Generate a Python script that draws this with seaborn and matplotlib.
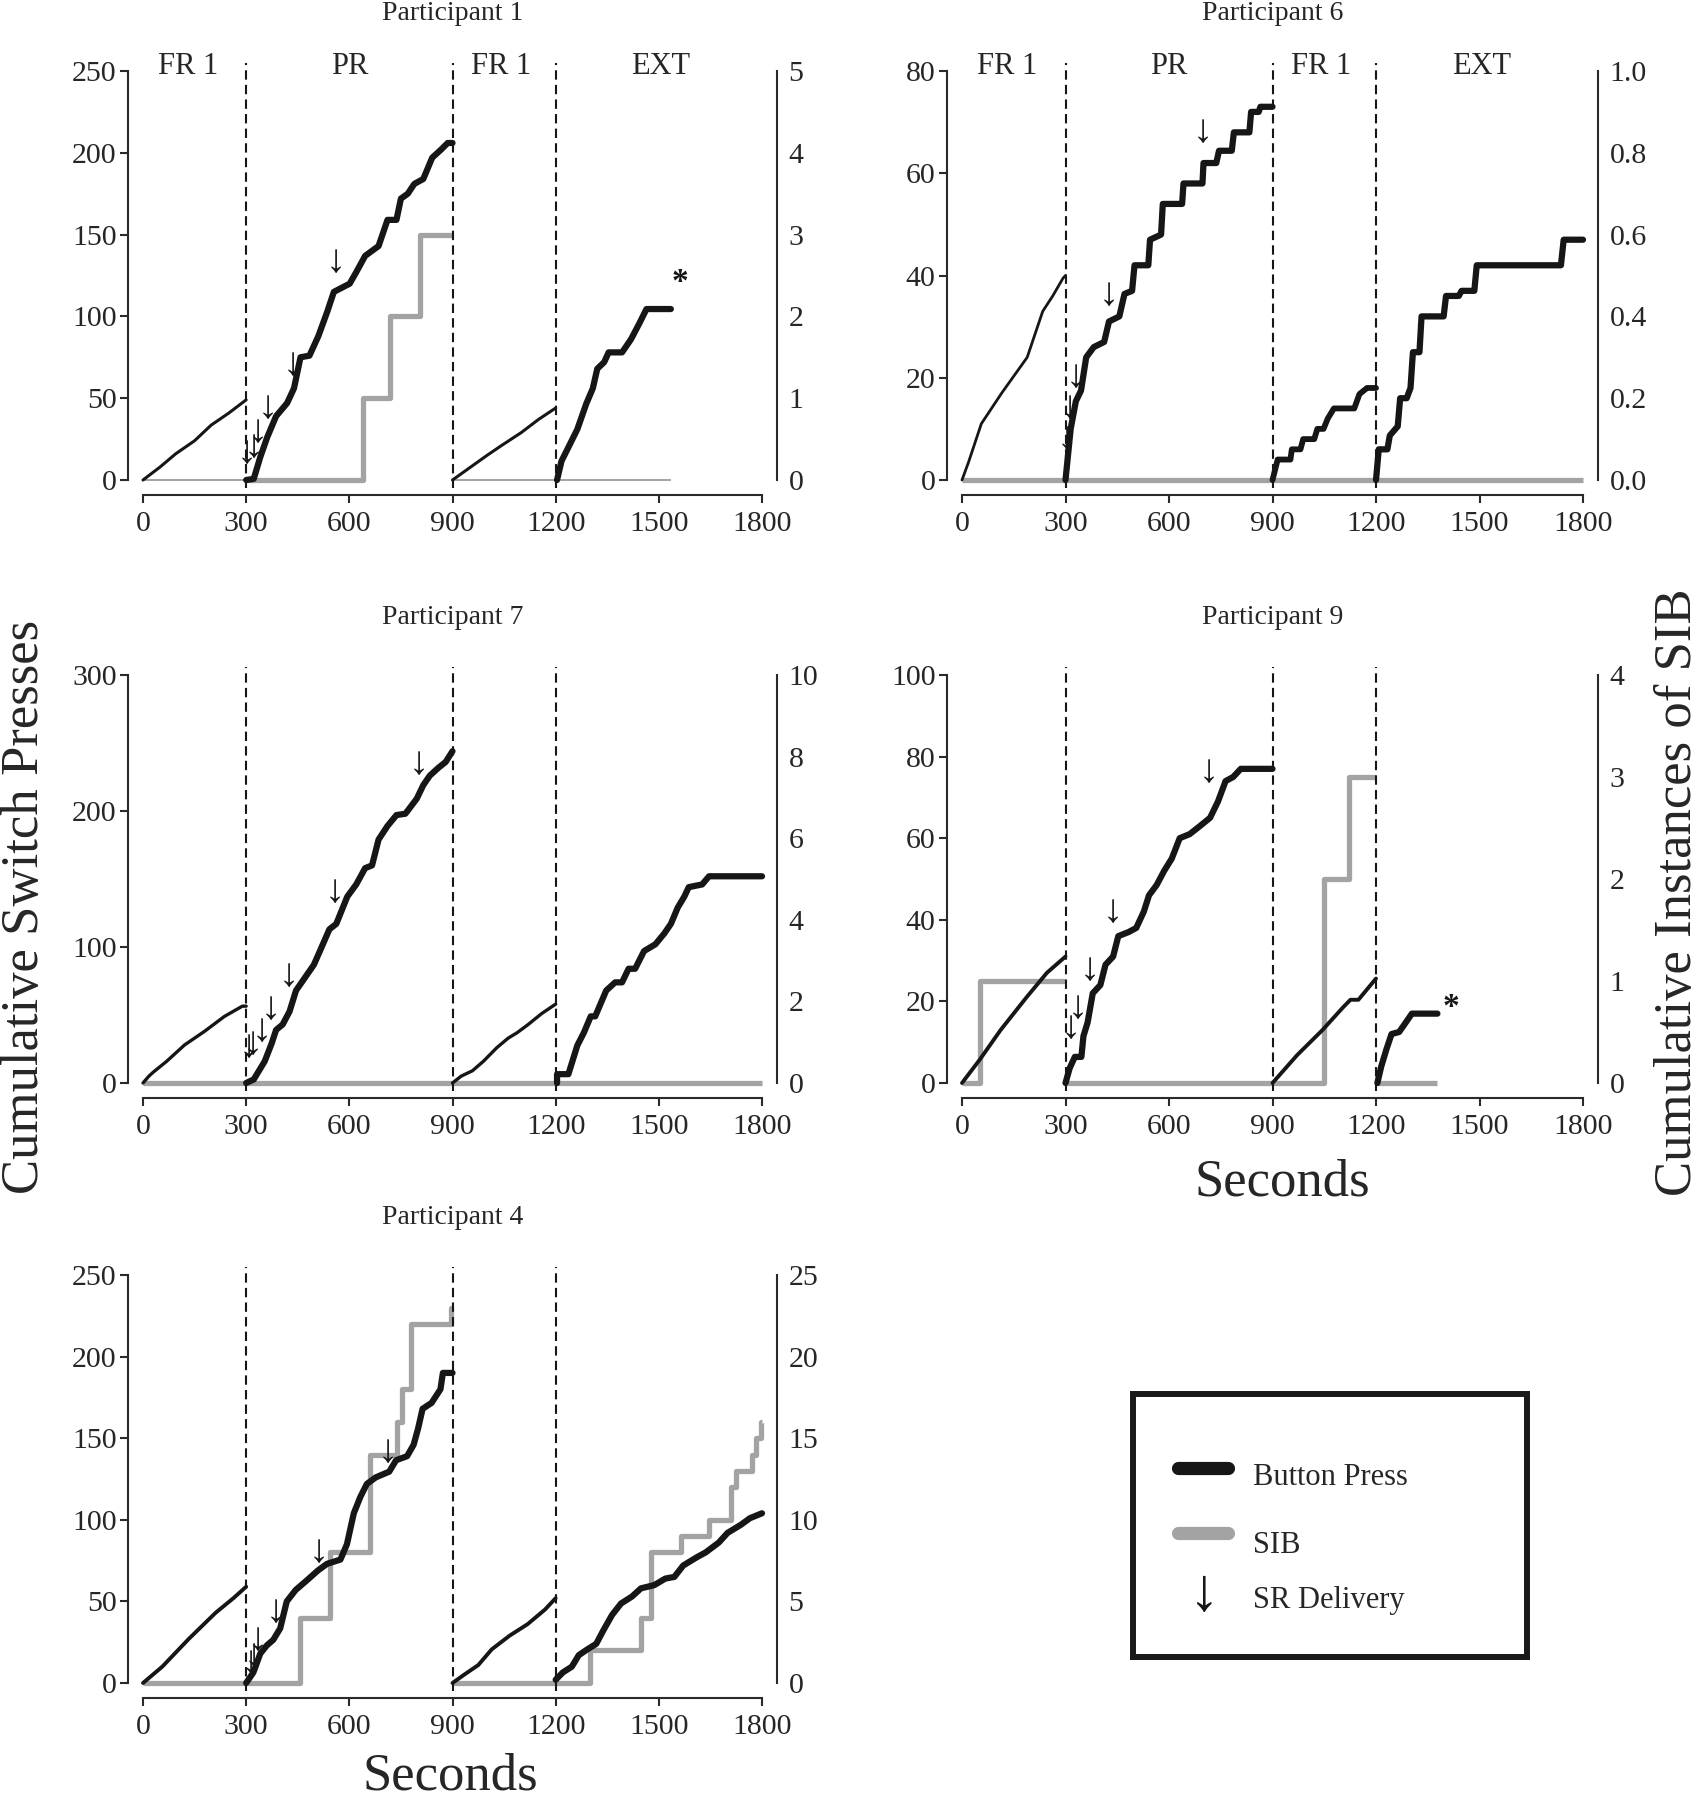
import numpy as np
import matplotlib
matplotlib.use("Agg")
import matplotlib.pyplot as plt
import seaborn as sns

nan = np.nan

# ---------------- DATA (seconds, cumulative counts; nan = phase break) ----------------
x_ticks = [0, 300, 600, 900, 1200, 1500, 1800]
phase_edges = [300, 900, 1200]
phase_names = ["FR 1", "PR", "FR 1", "EXT"]
phase_label_x = [130, 600, 1040, 1505]

# Participant 1
p1_press_t = [0, 50, 95, 150, 198, 250, 300, nan,
              300, 322, 341, 361, 387, 419, 439, 458, 484, 510, 536, 555, 601, 620, 646,
              685, 711, 737, 750, 770, 789, 815, 841, 867, 886, 900, nan,
              900, 1000, 1042, 1100, 1150, 1200, nan,
              1204, 1217, 1237, 1263, 1289, 1308, 1321, 1341, 1354, 1393, 1419, 1444, 1464, 1535]
p1_press_n = [0, 8, 16, 24, 33.5, 41, 49, nan,
              0, 0.7, 14, 26, 39, 47, 56, 75, 76, 88, 103, 115, 120, 127, 137,
              143, 159, 159, 172, 175, 181, 184, 197, 202, 206, 206, nan,
              0, 15, 21, 29, 37, 44, nan,
              0, 11.6, 20, 31, 46.6, 56, 68, 72, 78, 78, 86, 96, 104.5, 104.5]
p1_sib_t = [0, 300, nan, 300, 640, 718, 806, 900, nan, 900, 1200, nan, 1200, 1535]
p1_sib_n = [0, 0, nan, 0, 1, 2, 3, 3, nan, 0, 0, nan, 0, 0]
p1_sr_t = [302, 323, 334, 363, 436, 561]
p1_sr_n = [16.5, 20, 29, 44, 70, 133]
p1_star = (1561, 121)

# Participant 6
p6_press_t = [0, 19, 56, 115, 189, 234, 263, 293, 300, nan,
              300, 315, 330, 345, 360, 382, 412, 426, 456, 471, 493, 500, 540, 545, 577,
              582, 638, 642, 697, 700, 737, 745, 782, 788, 833, 838, 860, 865, 900, nan,
              900, 915, 952, 956, 981, 989, 1021, 1030, 1048, 1060, 1078, 1137, 1152, 1174, 1200, nan,
              1200, 1208, 1233, 1240, 1263, 1270, 1289, 1300, 1307, 1326, 1332, 1396, 1403,
              1440, 1448, 1485, 1492, 1736, 1744, 1800]
p6_press_n = [0, 3.5, 11, 17, 24, 33, 36, 39.5, 40, nan,
              0, 10, 15.4, 17.5, 24, 26, 27, 31, 32, 36.4, 37, 42, 42, 47, 48,
              54, 54, 58, 58, 62, 62, 64.4, 64.4, 68, 68, 72, 72, 73, 73, nan,
              0, 4, 4, 6, 6, 8, 8, 10, 10, 12, 14, 14, 16.8, 18, 18, nan,
              0, 6, 6, 8.7, 10.5, 16, 16, 18, 25, 25, 32, 32, 36,
              36, 37, 37, 42, 42, 47, 47]
p6_sib_t = [0, 300, nan, 300, 900, nan, 900, 1200, nan, 1200, 1800]
p6_sib_n = [0, 0, nan, 0, 0, nan, 0, 0, nan, 0, 0]
p6_sr_t = [303, 313, 330, 426, 699]
p6_sr_n = [8, 14, 20, 36, 68]

# Participant 7
p7_press_t = [0, 17, 30, 69, 121, 179, 237, 289, 300, nan,
              300, 322, 354, 374, 387, 406, 426, 445, 471, 497, 523, 542, 562, 594, 620,
              646, 666, 685, 711, 737, 763, 796, 815, 834, 860, 880, 900, nan,
              900, 925, 958, 990, 1029, 1062, 1088, 1120, 1159, 1200, nan,
              1204, 1204, 1237, 1263, 1282, 1302, 1315, 1347, 1373, 1393, 1412, 1431, 1457,
              1490, 1516, 1535, 1555, 1574, 1587, 1626, 1646, 1800]
p7_press_n = [0, 5, 8, 16, 28, 38, 49, 56.5, 56.5, nan,
              0, 2.6, 16, 29, 39, 43, 52.5, 68, 77.5, 87, 102, 113, 117, 137, 146,
              158, 160, 179, 189, 197, 198, 209, 219, 226, 232, 236, 244, nan,
              0, 5, 9, 16, 26, 33, 37, 43, 51, 58, nan,
              0, 6.5, 6.5, 27.6, 37, 49, 49, 68, 74, 74, 84, 84, 97,
              102, 110, 117, 129, 137, 144, 146, 152, 152]
p7_sib_t = [0, 300, nan, 300, 900, nan, 900, 1200, nan, 1200, 1800]
p7_sib_n = [0, 0, nan, 0, 0, nan, 0, 0, nan, 0, 0]
p7_sr_t = [308, 320, 346, 372, 425, 558, 803]
p7_sr_n = [26, 28, 37.5, 54, 78, 140, 234]

# Participant 9
p9_press_t = [0, 53, 112, 187, 246, 300, nan,
              300, 312, 327, 346, 352, 364, 379, 401, 416, 438, 453, 483, 505, 527, 542,
              564, 586, 608, 631, 660, 690, 719, 742, 764, 786, 808, 900, nan,
              900, 971, 1045, 1104, 1126, 1149, 1200, nan,
              1204, 1215, 1230, 1245, 1267, 1282, 1304, 1378]
p9_press_n = [0, 5.9, 13, 21, 27, 31, nan,
              0, 3.6, 6.4, 6.4, 11.5, 14.8, 22, 24, 29, 31, 36, 37, 38, 42, 46,
              48.5, 52, 55, 60, 61, 63, 65, 69, 74, 75, 77, 77, nan,
              0, 6.8, 13, 18.5, 20.4, 20.4, 25.6, nan,
              0, 4, 8.2, 12, 12.5, 14.3, 17, 17]
p9_sib_t = [0, 53, 300, nan, 300, 900, nan, 900, 1048, 1122, 1200, nan, 1200, 1378]
p9_sib_n = [0, 1, 1, nan, 0, 0, nan, 0, 2, 3, 3, nan, 0, 0]
p9_sr_t = [316, 336, 371, 438, 716]
p9_sr_n = [13.4, 18.3, 27.6, 41.8, 76]
p9_star = (1417, 18.6)

# Participant 4
p4_press_t = [0, 56, 133, 211, 263, 300, nan,
              300, 321, 341, 360, 379, 399, 418, 444, 477, 509, 535, 574, 593, 613,
              632, 651, 677, 716, 736, 768, 787, 800, 813, 839, 865, 872, 900, nan,
              900, 936, 975, 1014, 1066, 1118, 1169, 1200, nan,
              1200, 1221, 1247, 1267, 1292, 1318, 1338, 1364, 1390, 1422, 1448, 1487,
              1519, 1545, 1571, 1610, 1636, 1674, 1700, 1739, 1765, 1800]
p4_press_n = [0, 10, 27, 43, 52, 59, nan,
              0, 6.5, 18, 23, 26.5, 33.5, 50, 57, 63, 69, 73, 75.6, 85, 104,
              114, 122, 126, 129.5, 136.5, 139, 146, 156, 168, 171.6, 180, 190, 190, nan,
              0, 5.4, 11, 20.6, 29, 36, 45, 52, nan,
              2, 6.5, 10, 17, 20.6, 24, 32, 41.7, 48.7, 53, 58, 60,
              64, 65, 72, 77, 80, 86, 92, 97, 101, 104]
p4_sib_t = [0, 300, nan, 300, 457, 545, 660, 740, 752, 778, 896, 900, nan, 900, 1200, nan,
            1200, 1299, 1448, 1478, 1564, 1646, 1711, 1724, 1772, 1784, 1797, 1800]
p4_sib_n = [0, 0, nan, 0, 4, 8, 14, 16, 18, 22, 23, 23, nan, 0, 0, nan,
            0, 2, 4, 8, 9, 10, 12, 13, 14, 15, 16, 16]
p4_sr_t = [314, 323, 334, 387, 512, 712]
p4_sr_n = [12, 16, 26, 43.5, 80, 141.5]

# ---------------- STYLE ----------------
sns.set_style("ticks")
plt.rcParams['font.family'] = ['Liberation Serif', 'DejaVu Serif']
plt.rcParams['axes.linewidth'] = 1.5

BLACK = "#161616"
GRAY = "#a3a3a3"
SPINE = "#2a2a2a"

W, H = 1700, 1800
col_x = [(143, 762), (962, 1583)]
row_y = [(71, 480), (675, 1083), (1275, 1683)]


def frame(col, row):
    x0, x1 = col_x[col]
    top, bot = row_y[row]
    return [x0 / W, 1 - bot / H, (x1 - x0) / W, (bot - top) / H]


panels = [
    dict(title="Participant 1", pos=frame(0, 0), press=(p1_press_t, p1_press_n),
         sib=(p1_sib_t, p1_sib_n), sr=(p1_sr_t, p1_sr_n), star=p1_star,
         ymax=250, yticks=[0, 50, 100, 150, 200, 250], rmax=5, rticks=[0, 1, 2, 3, 4, 5],
         press_lw=[2.2, 4.5, 2.2, 4.5], sib_lw=[1.4, 3.8, 1.4, 1.4], phases=True),
    dict(title="Participant 6", pos=frame(1, 0), press=(p6_press_t, p6_press_n),
         sib=(p6_sib_t, p6_sib_n), sr=(p6_sr_t, p6_sr_n), star=None,
         ymax=80, yticks=[0, 20, 40, 60, 80], rmax=1.0,
         rticks=[0.0, 0.2, 0.4, 0.6, 0.8, 1.0],
         press_lw=[2.0, 4.5, 4.2, 4.5], sib_lw=[3.8] * 4, phases=True),
    dict(title="Participant 7", pos=frame(0, 1), press=(p7_press_t, p7_press_n),
         sib=(p7_sib_t, p7_sib_n), sr=(p7_sr_t, p7_sr_n), star=None,
         ymax=300, yticks=[0, 100, 200, 300], rmax=10, rticks=[0, 2, 4, 6, 8, 10],
         press_lw=[2.4, 4.5, 2.4, 4.5], sib_lw=[3.8] * 4, phases=False),
    dict(title="Participant 9", pos=frame(1, 1), press=(p9_press_t, p9_press_n),
         sib=(p9_sib_t, p9_sib_n), sr=(p9_sr_t, p9_sr_n), star=p9_star,
         ymax=100, yticks=[0, 20, 40, 60, 80, 100], rmax=4, rticks=[0, 1, 2, 3, 4],
         press_lw=[2.8, 4.5, 2.8, 4.5], sib_lw=[3.8] * 4, phases=False),
    dict(title="Participant 4", pos=frame(0, 2), press=(p4_press_t, p4_press_n),
         sib=(p4_sib_t, p4_sib_n), sr=(p4_sr_t, p4_sr_n), star=None,
         ymax=250, yticks=[0, 50, 100, 150, 200, 250], rmax=25, rticks=[0, 5, 10, 15, 20, 25],
         press_lw=[2.8, 4.5, 2.8, 4.5], sib_lw=[3.8] * 4, phases=False),
]


def split_phases(t, n):
    segs, ct, cn = [], [], []
    for a, b in zip(t, n):
        if np.isnan(a):
            segs.append((ct, cn))
            ct, cn = [], []
        else:
            ct.append(a)
            cn.append(b)
    segs.append((ct, cn))
    return segs


fig = plt.figure(figsize=(17, 18), dpi=100)

for p in panels:
    ax = fig.add_axes(p["pos"])
    ax2 = ax.twinx()
    ax.set_zorder(ax2.get_zorder() + 1)
    ax.patch.set_visible(False)

    # SIB on right axis
    for (t, n), lw in zip(split_phases(*p["sib"]), p["sib_lw"]):
        sns.lineplot(x=t, y=n, ax=ax2, color=GRAY, lw=lw, sort=False, estimator=None,
                     drawstyle="steps-post", clip_on=False, solid_capstyle="butt")
    # button presses on left axis
    for (t, n), lw in zip(split_phases(*p["press"]), p["press_lw"]):
        sns.lineplot(x=t, y=n, ax=ax, color=BLACK, lw=lw, sort=False, estimator=None,
                     clip_on=False, solid_capstyle="round", solid_joinstyle="round")

    for xe in phase_edges:
        ax.axvline(xe, ymin=-0.02, ymax=1.02, color=BLACK, lw=1.5,
                   dashes=(4.5, 2.5), clip_on=False, zorder=1)

    for t, n in zip(*p["sr"]):
        ax.text(t, n, "\u2193", fontsize=29, ha="center", va="center", color=BLACK)

    if p["star"] is not None:
        ax.text(p["star"][0], p["star"][1], "*", fontsize=24, ha="center", va="center",
                color=BLACK, fontweight="bold")

    if p["phases"]:
        for lx, name in zip(phase_label_x, phase_names):
            ax.text(lx, p["ymax"] * 1.012, name, fontsize=22, ha="center", va="center")

    ax.text(0.5, 1.14, p["title"], transform=ax.transAxes, fontsize=20,
            ha="center", va="center")

    ax.set_xlim(0, 1800)
    ax.set_ylim(0, p["ymax"])
    ax2.set_ylim(0, p["rmax"])
    ax.set_xticks(x_ticks)
    ax.set_xticklabels([str(v) for v in x_ticks])
    ax.set_yticks(p["yticks"])
    ax2.set_yticks(p["rticks"])
    if p["rmax"] == 1.0:
        ax2.set_yticklabels([f"{v:.1f}" for v in p["rticks"]])
    ax.set_xlabel("")
    ax.set_ylabel("")
    ax2.set_ylabel("")

    sns.despine(ax=ax, top=True, right=True, offset=11)
    sns.despine(ax=ax2, top=True, left=True, bottom=True, right=False, offset=11)
    ax.spines["left"].set_bounds(0, p["ymax"])
    ax.spines["bottom"].set_bounds(0, 1800)
    ax2.spines["right"].set_bounds(0, p["rmax"])
    for sp in [ax.spines["left"], ax.spines["bottom"], ax2.spines["right"]]:
        sp.set_color(SPINE)
        sp.set_linewidth(1.5)
    ax.tick_params(axis="both", labelsize=21.5, length=6, width=1.5, color=SPINE, pad=2)
    ax.tick_params(axis="x", pad=5)
    ax2.tick_params(axis="y", labelsize=21.5, length=6, width=1.5, color=SPINE, pad=2)

# axis titles
fig.text(25 / W, 1 - 907 / H, "Cumulative Switch Presses", rotation=90, fontsize=38,
         ha="center", va="center")
fig.text(1678 / W, 1 - 892 / H, "Cumulative Instances of SIB", rotation=90, fontsize=38,
         ha="center", va="center")
fig.text(1282 / W, 1 - 1196 / H, "Seconds", fontsize=38, ha="center", va="baseline")
fig.text(450 / W, 1 - 1790 / H, "Seconds", fontsize=38, ha="center", va="baseline")

# legend box
lg = fig.add_axes([1133 / W, 1 - 1657 / H, 394 / W, 263 / H])
lg.set_xlim(0, 1)
lg.set_ylim(0, 1)
lg.set_xticks([])
lg.set_yticks([])
for sp in lg.spines.values():
    sp.set_visible(True)
    sp.set_linewidth(4.3)
    sp.set_color("#1a1a1a")
lg.plot([0.115, 0.24], [0.719, 0.719], color=BLACK, lw=9.5, solid_capstyle="round")
lg.plot([0.115, 0.24], [0.471, 0.471], color=GRAY, lw=9.5, solid_capstyle="round")
lg.text(0.18, 0.236, "\u2193", fontsize=44, ha="center", va="center", color=BLACK)
lg.text(0.305, 0.654, "Button Press", fontsize=22, ha="left", va="baseline")
lg.text(0.305, 0.395, "SIB", fontsize=22, ha="left", va="baseline")
lg.text(0.305, 0.186, "SR Delivery", fontsize=22, ha="left", va="baseline")

fig.savefig("out.png", dpi=100)
